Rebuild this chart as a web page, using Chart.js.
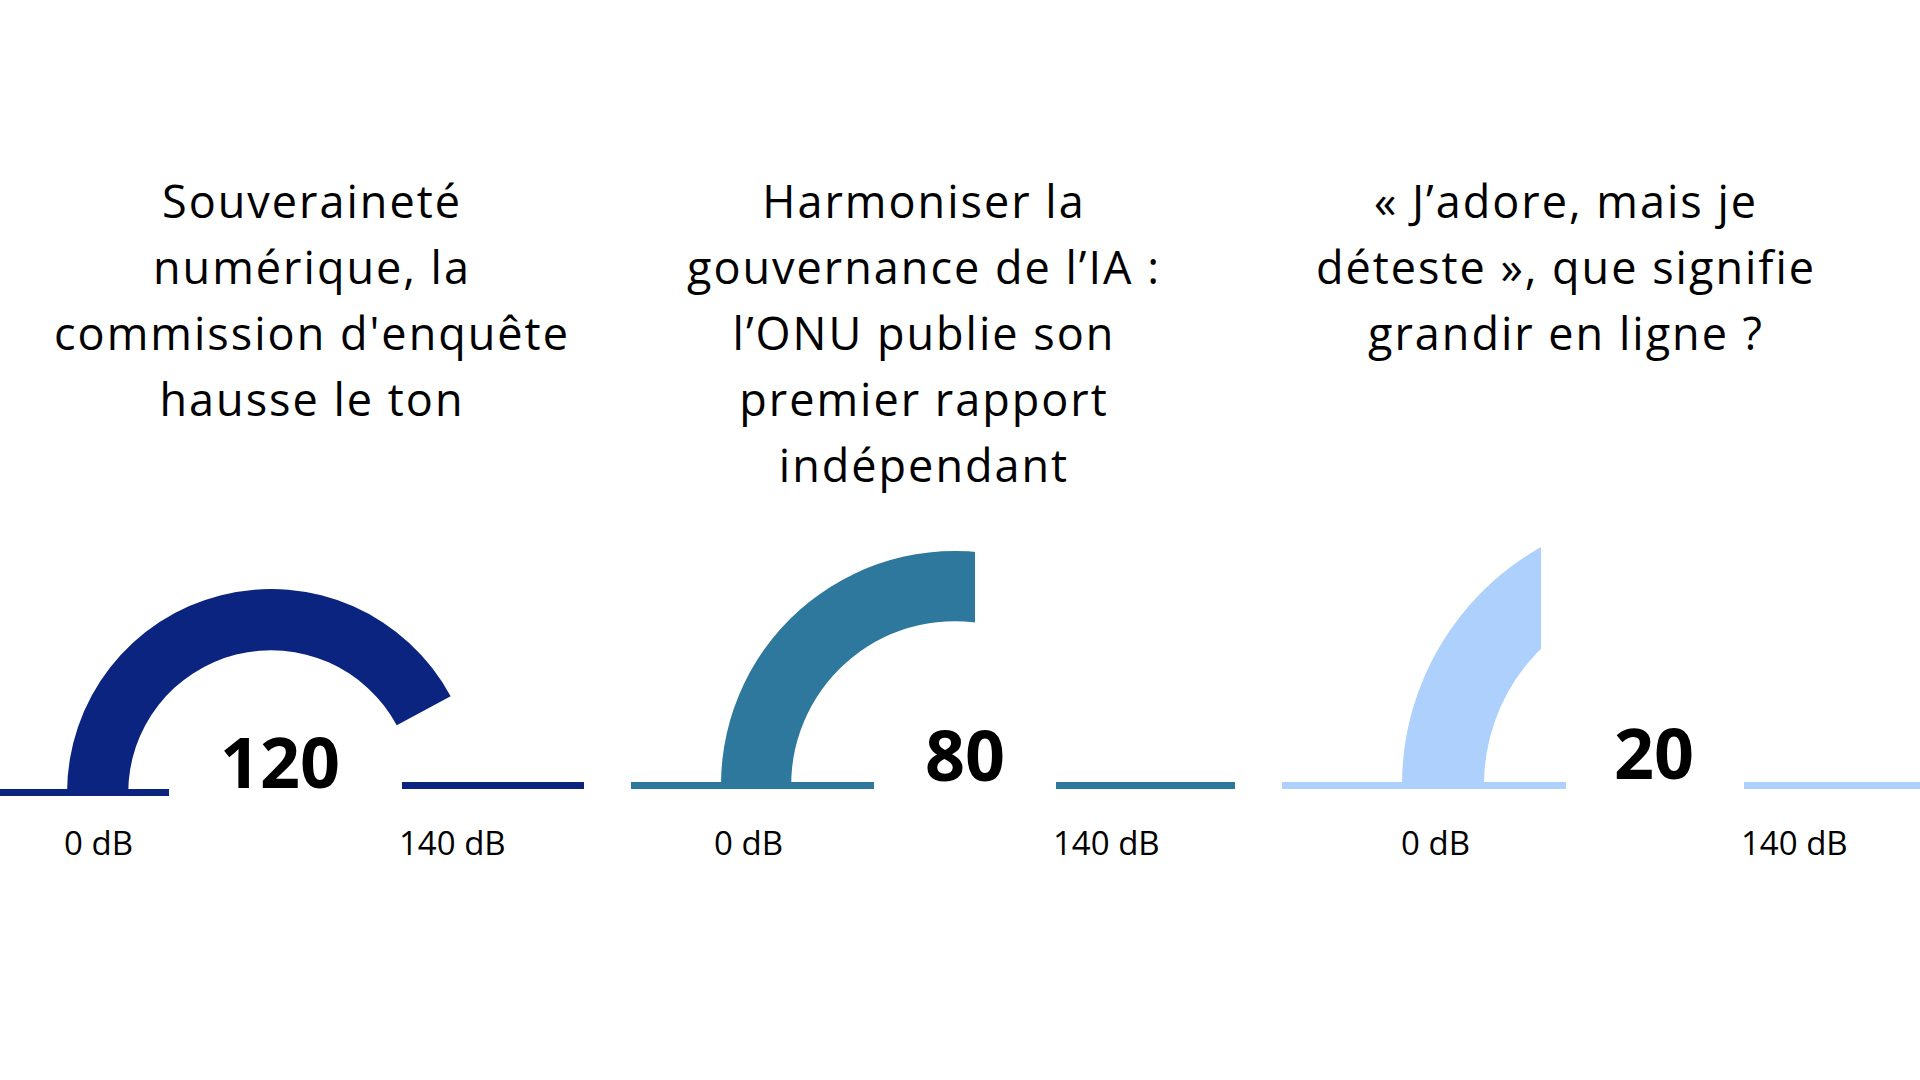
<!DOCTYPE html>
<html lang="fr">
<head>
<meta charset="utf-8">
<title>Jauges en décibels</title>
<script src="https://cdn.jsdelivr.net/npm/chart.js@4.4.1/dist/chart.umd.min.js"></script>
<style>
  html, body { margin: 0; padding: 0; background: #fff; }
  body { width: 1920px; height: 1080px; position: relative; overflow: hidden; font-family: "Open Sans", sans-serif; color: #000; }
  .title { position: absolute; top: 168px; width: 700px; text-align: center; font-size: 45px; line-height: 66px; letter-spacing: 2px; font-weight: 500; white-space: nowrap; }
  .box { position: absolute; overflow: hidden; }
  .bar { position: absolute; height: 7px; }
  .value { position: absolute; width: 240px; text-align: center; font-size: 70px; line-height: 70px; font-weight: 700; }
  .tick { position: absolute; font-size: 33px; line-height: 33px; white-space: nowrap; }
</style>
</head>
<body>
<script>
// Titles of the three gauges, one entry per line
const titles = [
    ['Souveraineté', 'numérique, la', "commission d'enquête", 'hausse le ton'],
    ['Harmoniser la', 'gouvernance de l’IA :', 'l’ONU publie son', 'premier rapport', 'indépendant'],
    ['« J’adore, mais je', 'déteste », que signifie', 'grandir en ligne ?']
];

// Value printed under each gauge (dB)
const dbValues = [120, 80, 20];

// How far each coloured arc reaches in the picture (dB).
// The third arc runs well past its 20 and is cut off by its box.
const arcReach = [118, 80, 60];

// Gauge scale
const scaleMin = 0;
const scaleMax = 140;
const unit = 'dB';

const colors = ['#0a2480', '#2e789e', '#add0fd'];

// Where each gauge sits on the page
const boxes = [
    { cx: 271, cy: 793, r: 204, clipX: null, titleX: 312, numX: 280, numBase: 788,
      left: [0, 169, 789], right: [402, 584, 782], minX: 64, maxX: 399 },
    { cx: 955, cy: 785, r: 234, clipX: 975, titleX: 924, numX: 965, numBase: 781,
      left: [631, 874, 782], right: [1056, 1235, 782], minX: 714, maxX: 1053 },
    { cx: 1675, cy: 785, r: 273, clipX: 1541, titleX: 1566, numX: 1654, numBase: 779,
      left: [1282, 1566, 782], right: [1744, 1920, 782], minX: 1401, maxX: 1741 }
];

function addDiv(cls, css, html) {
    const el = document.createElement('div');
    el.className = cls;
    Object.assign(el.style, css);
    if (html !== undefined) el.innerHTML = html;
    document.body.appendChild(el);
    return el;
}

boxes.forEach((b, i) => {
    // Title
    addDiv('title', { left: (b.titleX - 350) + 'px' }, titles[i].join('<br>'));

    // Baseline strokes on both sides of the number
    addDiv('bar', { left: b.left[0] + 'px', width: (b.left[1] - b.left[0]) + 'px', top: b.left[2] + 'px', background: colors[i] });
    addDiv('bar', { left: b.right[0] + 'px', width: (b.right[1] - b.right[0]) + 'px', top: b.right[2] + 'px', background: colors[i] });

    // Half doughnut, boxed so that anything past clipX is hidden
    const boxW = b.clipX === null ? 2 * b.r : b.clipX - (b.cx - b.r);
    const box = addDiv('box', { left: (b.cx - b.r) + 'px', top: (b.cy - b.r) + 'px', width: boxW + 'px', height: b.r + 'px' });
    const canvas = document.createElement('canvas');
    canvas.width = 2 * b.r;
    canvas.height = b.r;
    box.appendChild(canvas);

    new Chart(canvas, {
        type: 'doughnut',
        data: {
            labels: ['niveau', 'reste'],
            datasets: [{
                data: [arcReach[i] - scaleMin, scaleMax - arcReach[i]],
                backgroundColor: [colors[i], 'rgba(0,0,0,0)'],
                borderWidth: 0,
                hoverBorderWidth: 0,
                hoverOffset: 0
            }]
        },
        options: {
            responsive: false,
            animation: false,
            events: [],
            rotation: -90,
            circumference: 180,
            cutout: '70%',
            layout: { padding: 0 },
            plugins: { legend: { display: false }, tooltip: { enabled: false } }
        }
    });

    // Number and scale ends
    addDiv('value', { left: (b.numX - 120) + 'px', top: (b.numBase - 62) + 'px' }, String(dbValues[i]));
    addDiv('tick', { left: b.minX + 'px', top: '826px' }, scaleMin + ' ' + unit);
    addDiv('tick', { left: b.maxX + 'px', top: '826px' }, scaleMax + ' ' + unit);
});
</script>
</body>
</html>
